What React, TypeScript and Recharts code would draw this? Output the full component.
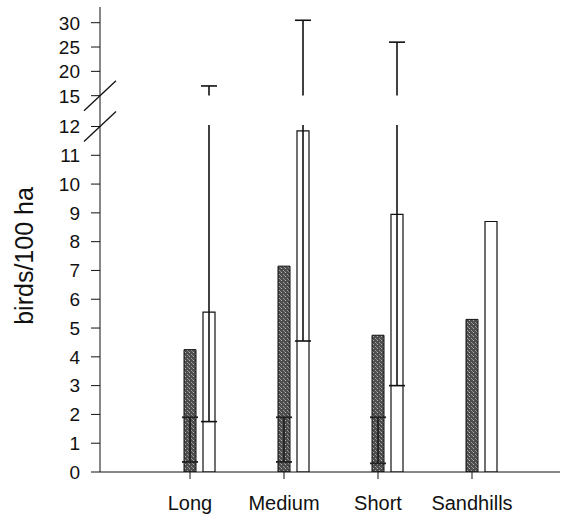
import React from 'react';
import {
  BarChart,
  Bar,
  XAxis,
  YAxis,
  ErrorBar,
  ReferenceArea,
} from 'recharts';

// chart data
const categories = ['Long', 'Medium', 'Short', 'Sandhills'];
const darkValues = [4.25, 7.15, 4.75, 5.3];
const darkMarkLow = [0.35, 0.35, 0.3, null];
const darkMarkHigh = [1.9, 1.9, 1.9, null];
const whiteValues = [5.55, 11.85, 8.95, 8.7];
const whiteLow = [1.75, 4.55, 3.0, null];
const whiteHigh = [17, 30.5, 26, null];
const yTickLabels = [0, 1, 2, 3, 4, 5, 6, 7, 8, 9, 10, 11, 12, 15, 20, 25, 30];

// broken axis: 0-12 linear, then a gap, then 15-30 compressed
const BREAK_LOW = 12;
const BREAK_HIGH = 15;
const UPPER_START = 13.07;
const UPPER_SCALE = 0.169;
const Y_MAX = 16.15;

const toAxis = (v: number) =>
  v <= BREAK_LOW ? v : UPPER_START + (v - BREAK_HIGH) * UPPER_SCALE;

const Y_TICK_SIZE = 9;
const Y_TICK_MARGIN = 11;
const FONT = '"Liberation Sans", Arial, sans-serif';

const data = categories.map((name, i) => {
  const dv = darkValues[i];
  const wv = whiteValues[i];
  const dl = darkMarkLow[i];
  const dh = darkMarkHigh[i];
  const wl = whiteLow[i];
  const wh = whiteHigh[i];
  return {
    name,
    dark: dv,
    white: toAxis(wv),
    darkErr: dl == null || dh == null ? undefined : [dv - dl, dh - dv],
    whiteErr:
      wl == null || wh == null
        ? undefined
        : [toAxis(wv) - toAxis(wl), toAxis(wh) - toAxis(wv)],
  };
});

const tickLookup = new Map(yTickLabels.map((l) => [toAxis(l), l]));

const YTick = (props: any) => {
  const { x, y, payload } = props;
  const label = tickLookup.get(payload.value) ?? payload.value;
  const axisX = x + Y_TICK_SIZE + Y_TICK_MARGIN;
  return (
    <g>
      <text
        x={x}
        y={y}
        dy="0.36em"
        textAnchor="end"
        fontSize={19}
        fontFamily={FONT}
        fill="#111"
      >
        {label}
      </text>
      {(label === BREAK_LOW || label === BREAK_HIGH) && (
        <line
          x1={axisX - 16}
          y1={y + 15}
          x2={axisX + 16}
          y2={y - 15}
          stroke="#111"
          strokeWidth={1.3}
        />
      )}
    </g>
  );
};

const YLabel = () => {
  const cx = 24;
  const cy = 256;
  return (
    <text
      x={cx}
      y={cy}
      transform={`rotate(-90 ${cx} ${cy})`}
      textAnchor="middle"
      dominantBaseline="central"
      fontSize={25}
      fontFamily={FONT}
      fill="#111"
    >
      birds/100 ha
    </text>
  );
};

export default function App() {
  return (
    <div style={{ position: 'absolute', left: 0, top: 0, width: 564, height: 523, background: '#fff' }}>
      <BarChart
        width={564}
        height={523}
        data={data}
        margin={{ top: 7, right: 4, left: 0, bottom: 21 }}
        barSize={12}
        barGap={7}
      >
        <defs>
          <pattern id="stipple" width="4" height="4" patternUnits="userSpaceOnUse">
            <rect width="4" height="4" fill="#4d4d4d" />
            <rect x="1" y="0" width="1" height="1" fill="#b5b5b5" />
            <rect x="3" y="2" width="1" height="1" fill="#a0a0a0" />
            <rect x="0" y="3" width="1" height="1" fill="#8a8a8a" />
          </pattern>
        </defs>
        <XAxis
          dataKey="name"
          height={30}
          padding={{ left: 43, right: 41 }}
          stroke="#111"
          tickSize={7}
          tickMargin={17}
          tick={{ fill: '#111', fontSize: 20, fontFamily: FONT }}
        />
        <YAxis
          type="number"
          width={100}
          domain={[0, Y_MAX]}
          allowDataOverflow
          ticks={yTickLabels.map(toAxis)}
          interval={0}
          stroke="#111"
          tickSize={Y_TICK_SIZE}
          tickMargin={Y_TICK_MARGIN}
          tick={<YTick />}
          label={<YLabel />}
        />
        <Bar dataKey="spacer" isAnimationActive={false} />
        <Bar
          dataKey="dark"
          fill="url(#stipple)"
          stroke="#111"
          strokeWidth={1}
          isAnimationActive={false}
        >
          <ErrorBar
            dataKey="darkErr"
            width={8}
            stroke="#222"
            strokeWidth={1.8}
            direction="y"
            isAnimationActive={false}
          />
        </Bar>
        <Bar
          dataKey="white"
          fill="#fff"
          stroke="#111"
          strokeWidth={1.2}
          isAnimationActive={false}
        >
          <ErrorBar
            dataKey="whiteErr"
            width={8}
            stroke="#111"
            strokeWidth={1.6}
            direction="y"
            isAnimationActive={false}
          />
        </Bar>
        <ReferenceArea
          y1={BREAK_LOW + 0.1}
          y2={toAxis(BREAK_HIGH) - 0.05}
          fill="#fff"
          fillOpacity={1}
          stroke="#fff"
          strokeWidth={3}
          ifOverflow="visible"
          zIndex={1500}
        />
      </BarChart>
    </div>
  );
}
